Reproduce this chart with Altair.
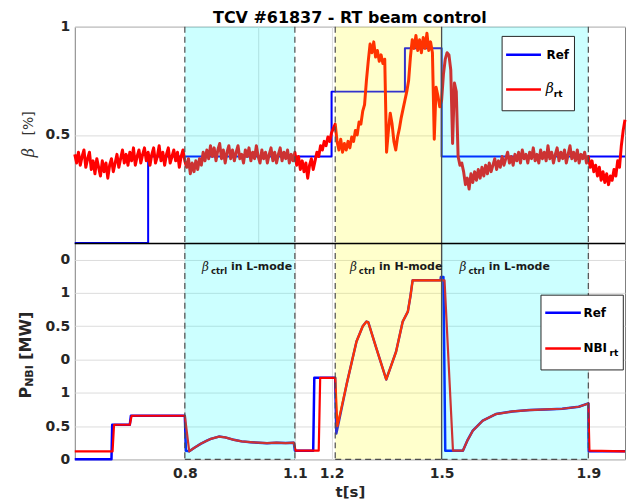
import altair as alt
import pandas as pd

W, H = 552, 217
T_DOMAIN = [0.5, 2.0]
TITLE = "TCV #61837 - RT beam control"

# ---------------- top panel : beta ----------------
BETA_REF_T = [0.5, 0.7, 1.2, 1.4, 1.5, 2.0]
BETA_REF_V = [0.0, 0.4, 0.7, 0.9, 0.4, 0.4]

BETA_STEP = 0.005
BETA_RT_A_START = 0.5
BETA_RT_A = [0.41, 0.37, 0.42, 0.36, 0.40, 0.43, 0.35, 0.39, 0.42, 0.34,
             0.38, 0.32, 0.39, 0.35, 0.31, 0.38, 0.33, 0.37, 0.30, 0.36,
             0.39, 0.33, 0.37, 0.41, 0.35, 0.39, 0.43, 0.37, 0.41, 0.36,
             0.42, 0.38, 0.44, 0.36, 0.40, 0.43, 0.37, 0.41, 0.44, 0.38,
             0.42, 0.36, 0.41, 0.44, 0.37, 0.40, 0.45, 0.38, 0.42, 0.36,
             0.41, 0.44, 0.37, 0.40, 0.43, 0.38, 0.42, 0.35, 0.40, 0.43,
             0.38]
BETA_RT_B_START = 0.805
BETA_RT_B = [0.35, 0.39, 0.32, 0.37, 0.33, 0.38, 0.34, 0.39, 0.36, 0.42,
             0.38, 0.43, 0.39, 0.45, 0.40, 0.44, 0.38, 0.43, 0.46, 0.39,
             0.43, 0.37, 0.42, 0.45, 0.39, 0.43, 0.38, 0.42, 0.45, 0.39,
             0.41, 0.37, 0.43, 0.40, 0.44, 0.38, 0.42, 0.39, 0.45, 0.40,
             0.37, 0.43, 0.39, 0.42, 0.37, 0.41, 0.44, 0.38, 0.42, 0.37,
             0.41, 0.44, 0.38, 0.42, 0.39, 0.43, 0.37, 0.41, 0.38, 0.42]
BETA_RT_C_START = 1.105
BETA_RT_C = [0.36, 0.40, 0.34, 0.38, 0.33, 0.37, 0.30, 0.36, 0.39, 0.34,
             0.38, 0.42, 0.40, 0.45, 0.43, 0.47, 0.45, 0.49, 0.47, 0.51,
             0.53, 0.55]
BETA_RT_D_START = 1.215
BETA_RT_D = [0.47, 0.43, 0.48, 0.42, 0.46, 0.43, 0.47, 0.44, 0.49, 0.47,
             0.52, 0.50, 0.56, 0.55, 0.61, 0.64, 0.75, 0.84, 0.92, 0.88,
             0.93, 0.86, 0.89, 0.84, 0.87, 0.83, 0.85, 0.42, 0.52, 0.60,
             0.55, 0.47, 0.43, 0.49, 0.53, 0.58, 0.62, 0.66, 0.70, 0.75,
             0.86, 0.94, 0.90, 0.96, 0.89, 0.94, 0.88, 0.95, 0.90, 0.97,
             0.89, 0.93, 0.88, 0.48, 0.72, 0.68, 0.63, 0.66]
BETA_RT_E_START = 1.505
BETA_RT_E = [0.78, 0.85, 0.88, 0.87, 0.80, 0.46, 0.74, 0.70, 0.40, 0.36,
             0.37, 0.33, 0.27, 0.30, 0.25, 0.32, 0.28, 0.33, 0.29, 0.34,
             0.30, 0.35, 0.31, 0.36, 0.32, 0.37, 0.33, 0.36, 0.39, 0.34,
             0.38, 0.35, 0.40, 0.36, 0.39, 0.42, 0.37, 0.40, 0.36, 0.41,
             0.38, 0.42, 0.37, 0.43, 0.39, 0.41, 0.37, 0.42, 0.39, 0.44,
             0.38, 0.41, 0.37, 0.43, 0.39, 0.42, 0.38, 0.45, 0.39, 0.42,
             0.37, 0.41, 0.44, 0.38, 0.42, 0.39, 0.43, 0.37, 0.41, 0.45,
             0.39, 0.42, 0.38, 0.43, 0.37, 0.41, 0.39, 0.42, 0.37, 0.40,
             0.35, 0.38, 0.33, 0.36, 0.31, 0.35, 0.29, 0.33, 0.28, 0.32,
             0.27, 0.31, 0.29, 0.34, 0.31, 0.38, 0.35, 0.45, 0.52, 0.57]

# ---------------- bottom panel : NBI power ----------------
NBI_RT_T = [0.5, 0.603, 0.607, 0.65, 0.655, 0.8, 0.812, 0.825, 0.843, 0.86,
            0.871, 0.893, 0.91, 0.934, 0.955, 0.979, 1.0, 1.024, 1.05, 1.075,
            1.097, 1.102, 1.165, 1.169, 1.21, 1.216, 1.241, 1.268, 1.285, 1.295,
            1.30, 1.322, 1.349, 1.362, 1.376, 1.394, 1.408, 1.415, 1.421, 1.499,
            1.508, 1.531, 1.558, 1.57, 1.585, 1.612, 1.648, 1.693, 1.739, 1.784,
            1.829, 1.874, 1.90, 1.903, 2.0]
NBI_RT_V = [0.12, 0.12, 0.52, 0.52, 0.655, 0.655, 0.12, 0.17, 0.233, 0.28,
            0.308, 0.342, 0.33, 0.293, 0.27, 0.258, 0.25, 0.243, 0.25, 0.245,
            0.25, 0.13, 0.13, 1.225, 1.225, 0.50, 1.126, 1.77, 2.0, 2.07,
            2.06, 1.67, 1.20, 1.40, 1.62, 2.07, 2.22, 2.45, 2.69, 2.69,
            2.69, 0.13, 0.13, 0.28, 0.43, 0.58, 0.68, 0.72, 0.74, 0.75,
            0.76, 0.79, 0.84, 0.13, 0.12]
NBI_REF_T = [0.5, 0.6, 0.602, 0.65, 0.653, 0.8, 0.803, 0.812, 0.825, 0.843,
             0.86, 0.871, 0.893, 0.91, 0.934, 0.955, 0.979, 1.0, 1.024, 1.05,
             1.075, 1.097, 1.1, 1.15, 1.153, 1.21, 1.213, 1.222, 1.241, 1.268,
             1.285, 1.295, 1.30, 1.322, 1.349, 1.362, 1.376, 1.394, 1.408, 1.415,
             1.421, 1.497, 1.498, 1.505, 1.51, 1.558, 1.57, 1.585, 1.612, 1.648,
             1.693, 1.739, 1.784, 1.829, 1.874, 1.9, 1.901, 2.0]
NBI_REF_V = [0.0, 0.0, 0.52, 0.52, 0.655, 0.655, 0.13, 0.12, 0.17, 0.233,
             0.28, 0.308, 0.342, 0.33, 0.293, 0.27, 0.258, 0.25, 0.243, 0.25,
             0.245, 0.25, 0.13, 0.13, 1.225, 1.225, 0.39, 0.62, 1.126, 1.77,
             2.0, 2.07, 2.06, 1.67, 1.20, 1.40, 1.62, 2.07, 2.22, 2.45,
             2.69, 2.69, 2.74, 2.74, 0.13, 0.13, 0.28, 0.43, 0.58, 0.68,
             0.72, 0.74, 0.75, 0.76, 0.79, 0.84, 0.12, 0.12]

# shaded control phases
SHADE_X0 = [0.8, 1.21, 1.5]
SHADE_X1 = [1.1, 1.5, 1.9]
SHADE_FILL = ["#00ffff", "#ffff00", "#00ffff"]
DASHED_LINE_T = [0.8, 1.1, 1.21, 1.9]
SOLID_LINE_T = [1.5]

TOP_X_GRID = [1.0, 1.2]
BOTTOM_X_TICKS = [0.8, 1.1, 1.2, 1.5, 1.9]
TOP_Y_TICKS = [0.5, 1.0]
NBI_TICKS = [0, 0.5, 1, 1.5, 2, 2.5, 3]
NBI_TICK_LABELS = ["0", "0.5", "1", "0", "0.5", "1", "0"]

# ---------------- data frames ----------------
beta_t, beta_v = [], []
for start, vals in [(BETA_RT_A_START, BETA_RT_A), (BETA_RT_B_START, BETA_RT_B),
                    (BETA_RT_C_START, BETA_RT_C), (BETA_RT_D_START, BETA_RT_D),
                    (BETA_RT_E_START, BETA_RT_E)]:
    for k, v in enumerate(vals):
        beta_t.append(round(start + k * BETA_STEP, 4))
        beta_v.append(v)
df_beta = pd.DataFrame({"t": beta_t, "v": beta_v})
df_beta_ref = pd.DataFrame({"t": BETA_REF_T, "v": BETA_REF_V})
df_nbi = pd.DataFrame({"t": NBI_RT_T, "v": NBI_RT_V})
df_nbi_ref = pd.DataFrame({"t": NBI_REF_T, "v": NBI_REF_V})
df_shade = pd.DataFrame({"x0": SHADE_X0, "x1": SHADE_X1, "fill": SHADE_FILL})
df_dashed = pd.DataFrame({"t": DASHED_LINE_T})
df_solid = pd.DataFrame({"t": SOLID_LINE_T})
ONE = pd.DataFrame({"k": [0]})

label_expr = " : ".join(
    f"abs(datum.value - {v}) < 0.01 ? '{l}'" for v, l in zip(NBI_TICKS, NBI_TICK_LABELS)
) + " : ''"

xs = alt.Scale(domain=T_DOMAIN, nice=False, zero=False)
X_AX_TOP = alt.Axis(values=TOP_X_GRID, labels=False, ticks=False, domain=False,
                    grid=True, title=None)
X_AX_BOT = alt.Axis(values=BOTTOM_X_TICKS, format=".1f", grid=True, ticks=False,
                    domain=False, labelPadding=7, title="t[s]", titleFontSize=15,
                    titlePadding=4, labelOverlap=False)
Y_AX_TOP = alt.Axis(values=TOP_Y_TICKS, format="~g", grid=True, ticks=False, domain=False,
                    labelPadding=5, title=None)
Y_AX_BOT = alt.Axis(values=NBI_TICKS, labelExpr=label_expr, grid=True, ticks=False,
                    domain=False, labelPadding=5, title=None)
ys_top = alt.Scale(domain=[0, 1], nice=False, zero=False)
ys_bot = alt.Scale(domain=[0, 3.25], nice=False, zero=False)


def txt(x, y, s, size=12, weight="bold", style="normal", font="DejaVu Sans",
        color="#000000", angle=0, align="left", baseline="middle"):
    return alt.Chart(ONE).mark_text(
        text=s, fontSize=size, fontWeight=weight, fontStyle=style, font=font,
        color=color, angle=angle, align=align, baseline=baseline
    ).encode(x=alt.value(x), y=alt.value(y))


def hline(x1, x2, y, color, width=2.5):
    return alt.Chart(ONE).mark_rule(color=color, strokeWidth=width).encode(
        x=alt.value(x1), x2=alt.value(x2), y=alt.value(y))


def box(x1, x2, y1, y2):
    return alt.Chart(ONE).mark_rect(fill="white", stroke="#262626", strokeWidth=1).encode(
        x=alt.value(x1), x2=alt.value(x2), y=alt.value(y1), y2=alt.value(y2))


anchor = alt.Chart(ONE).mark_rule(opacity=0, strokeWidth=0.01).encode(
    x=alt.value(-66), x2=alt.value(-66), y=alt.value(40), y2=alt.value(60))


def panel_layers(df_ref, df_rt, xax, yax, ys, ref_w, rt_w, step, dashed_bottom):
    ref_mark = alt.Chart(df_ref).mark_line(
        color="#0000ff", strokeWidth=ref_w, strokeJoin="round",
        interpolate="step-after" if step else "linear")
    ref = ref_mark.encode(x=alt.X("t:Q", scale=xs, axis=xax),
                          y=alt.Y("v:Q", scale=ys, axis=yax))
    rt = alt.Chart(df_rt).mark_line(color="#ff0000", strokeWidth=rt_w, strokeJoin="round").encode(
        x=alt.X("t:Q", scale=xs, axis=xax), y=alt.Y("v:Q", scale=ys, axis=yax))
    shade = alt.Chart(df_shade).mark_rect(fillOpacity=0.2, strokeWidth=0).encode(
        x=alt.X("x0:Q", scale=xs, axis=xax), x2="x1:Q",
        y=alt.value(0), y2=alt.value(H), fill=alt.Fill("fill:N", scale=None))
    dashed = alt.Chart(df_dashed).mark_rule(
        color="#4d4d4d", strokeWidth=1.2, strokeDash=[6, 4]).encode(
        x=alt.X("t:Q", scale=xs, axis=xax))
    solid = alt.Chart(df_solid).mark_rule(color="#4d4d4d", strokeWidth=1.3).encode(
        x=alt.X("t:Q", scale=xs, axis=xax))
    layers = [ref, rt, shade, dashed, solid]
    if dashed_bottom:
        layers.append(alt.Chart(df_shade).mark_rule(
            color="#4d4d4d", strokeWidth=1.2, strokeDash=[6, 4]).encode(
            x=alt.X("x0:Q", scale=xs, axis=xax), x2="x1:Q", y=alt.value(H)))
    return layers


top_layers = panel_layers(df_beta_ref, df_beta, X_AX_TOP, Y_AX_TOP, ys_top, 2, 3, True, False)
top_layers += [
    box(428.7, 501.3, 9.7, 84.3),
    hline(432.7, 467.7, 28, "#0000ff"),
    hline(432.7, 467.7, 63, "#ff0000"),
    txt(473.3, 28, "Ref", size=12),
    txt(472.5, 62, "β", size=14, weight="normal", style="italic", font="DejaVu Serif"),
    txt(480.5, 67, "rt", size=9),
    txt(W / 2, -4, TITLE, size=16, align="center", baseline="alphabetic"),
    txt(-46, 131, "β", size=16, weight="normal", style="italic", font="DejaVu Serif",
        color="#333333", angle=270),
    txt(-46, 109, "[%]", size=14, weight="normal", color="#333333", angle=270),
    anchor,
]
top = alt.layer(*top_layers).properties(width=W, height=H)

bot_layers = panel_layers(df_nbi_ref, df_nbi, X_AX_BOT, Y_AX_BOT, ys_bot, 2.5, 2.2, False, True)
bot_layers += [
    hline(0, W, 0.5, "#000000", 1.6),
    txt(127.7, 24, "β", size=12, weight="normal", style="italic", font="DejaVu Serif", color="#1a1a1a"),
    txt(136.7, 28, "ctrl", size=8.5, color="#1a1a1a"),
    txt(156.7, 24, "in L-mode", size=11, color="#1a1a1a"),
    txt(276, 24, "β", size=12, weight="normal", style="italic", font="DejaVu Serif", color="#1a1a1a"),
    txt(285, 28, "ctrl", size=8.5, color="#1a1a1a"),
    txt(305.3, 24, "in H-mode", size=11, color="#1a1a1a"),
    txt(386, 24, "β", size=12, weight="normal", style="italic", font="DejaVu Serif", color="#1a1a1a"),
    txt(395, 28, "ctrl", size=8.5, color="#1a1a1a"),
    txt(415.3, 24, "in L-mode", size=11, color="#1a1a1a"),
    box(467.7, 550.3, 52.3, 127.3),
    hline(472, 507.7, 70, "#0000ff"),
    hline(472, 507.7, 105.7, "#ff0000"),
    txt(510.3, 70, "Ref", size=12),
    txt(510.3, 105.7, "NBI", size=12),
    txt(536.5, 110.7, "rt", size=9),
    txt(-49, 156, "P", size=16, color="#262626", angle=270),
    txt(-45, 144.3, "NBI", size=11, color="#262626", angle=270),
    txt(-49, 117, "[MW]", size=16, color="#262626", angle=270),
    anchor,
]
bottom = alt.layer(*bot_layers).properties(width=W, height=H)

chart = alt.vconcat(top, bottom, spacing=0, bounds="flush", padding=0).configure_view(
    stroke="#808080", strokeWidth=1
).configure_axis(
    labelFont="DejaVu Sans", labelFontSize=14, labelFontWeight="bold",
    labelColor="#262626", titleFont="DejaVu Sans", titleFontWeight="bold",
    titleColor="#262626", gridColor="#dcdcdc", gridWidth=1
)

chart.save("out.html", embed_options={"renderer": "svg", "actions": False})
